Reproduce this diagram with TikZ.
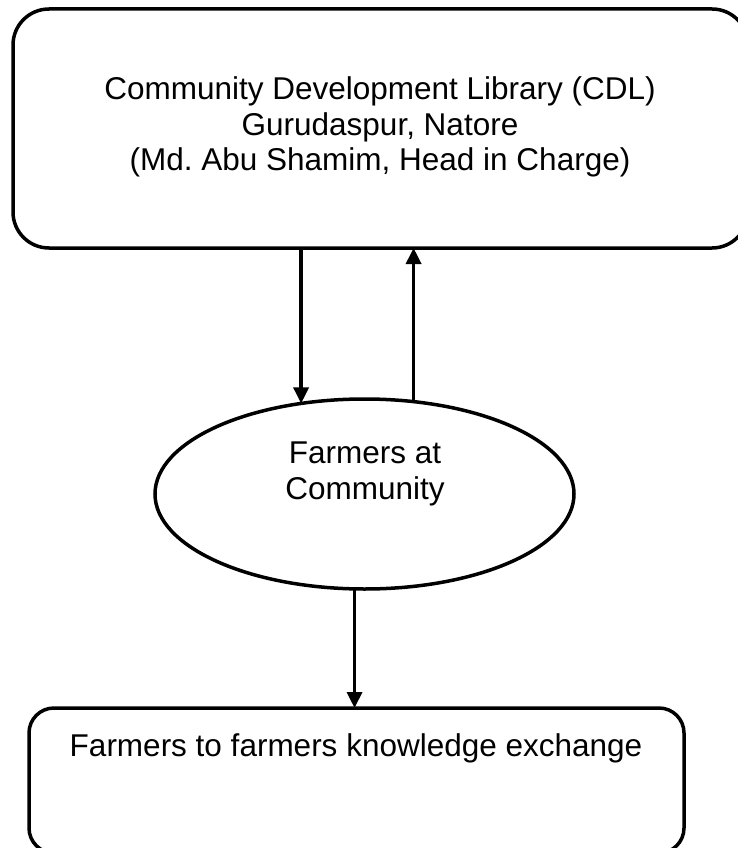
\documentclass[tikz,border=0pt]{standalone}
\usepackage{fontspec}
\setmainfont{Liberation Sans}
\usetikzlibrary{shapes.geometric,arrows.meta}
\begin{document}
\begin{tikzpicture}[x=1pt,y=-1pt,
  lw/.style={line width=3.5pt},
  boxshape/.style={draw, lw, rectangle, inner sep=0pt, outer sep=0pt},
  ellshape/.style={draw, lw, ellipse, inner sep=0pt, outer sep=0pt, minimum width=419pt, minimum height=190pt},
  txt/.style={font=\fontsize{31.5}{35.5}\selectfont, align=center, inner sep=0pt},
  arr/.style={lw, -{Triangle[length=16pt,width=15pt]}}]
\useasboundingbox (0,0) rectangle (738,848);
\fill[white] (0,0) rectangle (738,848);
% shapes
\node[boxshape, rounded corners=36pt, minimum width=735pt, minimum height=239pt] (cdl) at (380.5,128.5) {};
\node[ellshape] (farm) at (364.5,494) {};
\node[boxshape, rounded corners=25pt, minimum width=655pt, minimum height=145pt] (ftf) at (356.5,780.5) {};
% texts
\node[txt] (cdltext) at (380,127) {Community Development Library (CDL)\\Gurudaspur, Natore\\(Md.\ Abu Shamim, Head in Charge)};
\node[txt] (farmtext) at (365,474) {Farmers at\\Community};
\node[txt, anchor=base] (ftftext) at (356,756) {Farmers to farmers knowledge exchange};
% connectors
\draw[arr] (cdl.south -| farm.125.1) -- (farm.125.1);
\draw[arr] (farm.62.3) -- (farm.62.3 |- cdl.south);
\draw[arr] (farm.264.3) -- (farm.264.3 |- ftf.north);
\end{tikzpicture}
\end{document}
